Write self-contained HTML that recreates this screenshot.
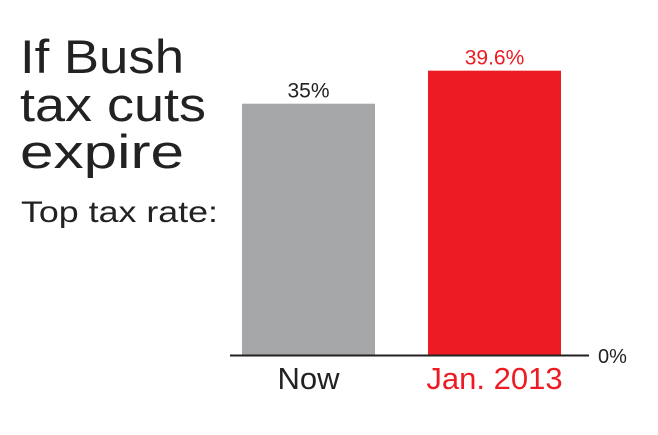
<!DOCTYPE html>
<html><head><meta charset="utf-8"><style>
body{margin:0;background:#fff;width:658px;height:430px;overflow:hidden;font-family:"Liberation Sans",sans-serif}
</style></head><body>
<svg width="658" height="430" id="c">
<text x="20" y="73" font-size="47" fill="#222" textLength="164" lengthAdjust="spacingAndGlyphs">If Bush</text>
<text x="20" y="121" font-size="47" fill="#222" textLength="186" lengthAdjust="spacingAndGlyphs">tax cuts</text>
<text x="20" y="168" font-size="47" fill="#222" textLength="164" lengthAdjust="spacingAndGlyphs">expire</text>
<text x="21" y="222" font-size="30" fill="#222" textLength="197" lengthAdjust="spacingAndGlyphs">Top tax rate:</text>
<line x1="230" y1="355.5" x2="589" y2="355.5" stroke="#222" stroke-width="2"/>
<text x="598" y="363" font-size="20" fill="#222">0%</text>
</svg>
<script>
const categories=["Now","Jan. 2013"];
const values=[35,39.6];
const valueLabels=["35%","39.6%"];
const colors=["#a6a7a9","#ed1c24"];
const textColors=["#222","#ed1c24"];
const svg=document.getElementById('c');
const NS="http://www.w3.org/2000/svg";
const base=355, k=7.18;
function y(v){return base-v*k;}
function x(i){return 242+i*186;}
const bw=133;
categories.forEach((c,i)=>{
 const r=document.createElementNS(NS,'rect');
 r.setAttribute('x',x(i));r.setAttribute('y',y(values[i]));
 r.setAttribute('width',bw);r.setAttribute('height',base-y(values[i]));
 r.setAttribute('fill',colors[i]);
 
 
 svg.insertBefore(r,svg.querySelector('line'));
 const t=document.createElementNS(NS,'text');
 t.setAttribute('x',x(i)+bw/2);t.setAttribute('y',y(values[i])-6);
 t.setAttribute('text-anchor','middle');t.setAttribute('font-size','21');
 t.setAttribute('fill',textColors[i]);t.textContent=valueLabels[i];
 
 
 svg.appendChild(t);
 const l=document.createElementNS(NS,'text');
 l.setAttribute('x',x(i)+bw/2);l.setAttribute('y',389);
 l.setAttribute('text-anchor','middle');l.setAttribute('font-size','31');
 l.setAttribute('fill',textColors[i]);l.textContent=c;
 
 
 svg.appendChild(l);
});
</script>
</body></html>
